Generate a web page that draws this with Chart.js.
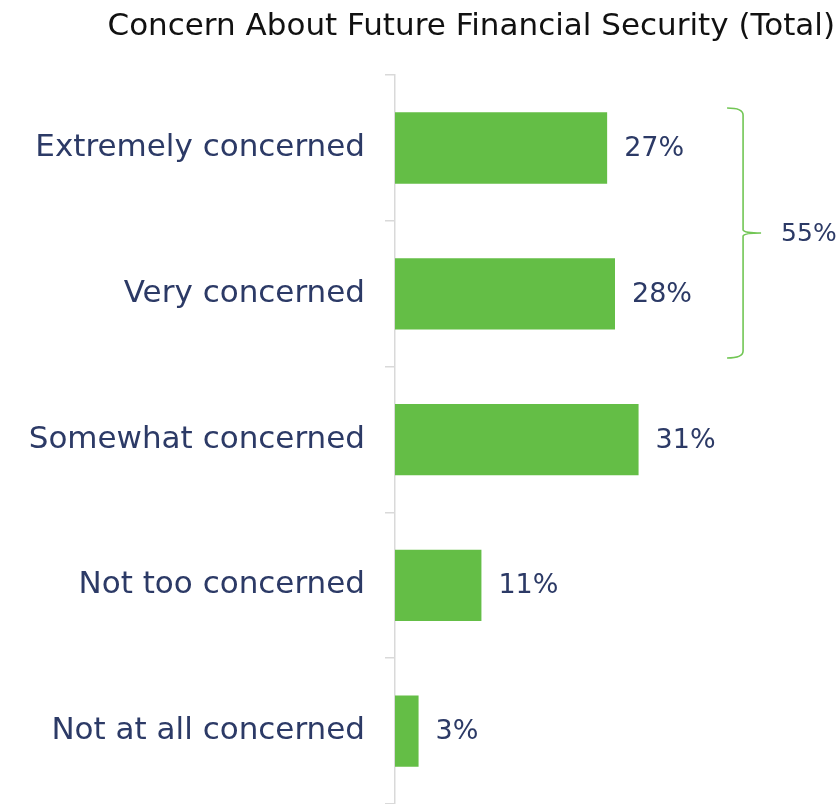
<!DOCTYPE html>
<html>
<head>
<meta charset="utf-8">
<script src="https://cdn.jsdelivr.net/npm/chart.js@4.4.1/dist/chart.umd.min.js"></script>
<style>
  html, body { margin: 0; padding: 0; background: #fff; }
  #wrap { width: 840px; height: 804px; }
</style>
</head>
<body>
<div id="wrap"><canvas id="chart" width="840" height="804"></canvas></div>
<script>
const categories = [
  'Extremely concerned',
  'Very concerned',
  'Somewhat concerned',
  'Not too concerned',
  'Not at all concerned',
];
const shares = [27, 28, 31, 11, 3];
// top two answers are bracketed together
const groupedRows = [0, 1];

const FONT = '"DejaVu Sans", "Noto Sans", sans-serif';
const NAVY = '#2c3a66';
const GREEN = '#64be46';
const BRACE_GREEN = '#72c655';
const AXIS_GREY = '#d9d9d9';

const valueLabels = {
  id: 'valueLabels',
  afterDatasetsDraw(chart) {
    const { ctx } = chart;
    const meta = chart.getDatasetMeta(0);
    ctx.save();
    ctx.font = `27px ${FONT}`;
    ctx.fillStyle = NAVY;
    ctx.textAlign = 'left';
    ctx.textBaseline = 'middle';
    meta.data.forEach((bar, i) => {
      ctx.fillText(`${shares[i]}%`, bar.x + 17, bar.y + 1);
    });
    ctx.restore();
  },
};

const groupBrace = {
  id: 'groupBrace',
  afterDraw(chart) {
    const { ctx, scales } = chart;
    const y = scales.y;
    const band = y.getPixelForValue(1) - y.getPixelForValue(0);
    const top = y.getPixelForValue(groupedRows[0]) - band * 0.275;
    const bottom = y.getPixelForValue(groupedRows[groupedRows.length - 1]) + band * 0.44;
    const mid = (top + bottom) / 2;
    const x = scales.x.getPixelForValue(44.3);
    const hook = 16;
    const tip = 18;
    const r = 7;

    ctx.save();
    ctx.strokeStyle = BRACE_GREEN;
    ctx.lineWidth = 1.6;
    ctx.beginPath();
    ctx.moveTo(x - hook, top);
    ctx.quadraticCurveTo(x, top, x, top + r);
    ctx.lineTo(x, mid - 3);
    ctx.quadraticCurveTo(x + 1, mid, x + tip, mid);
    ctx.quadraticCurveTo(x + 1, mid, x, mid + 3);
    ctx.lineTo(x, bottom - r);
    ctx.quadraticCurveTo(x, bottom, x - hook, bottom);
    ctx.stroke();

    const total = groupedRows.reduce((sum, i) => sum + shares[i], 0);
    ctx.font = `25px ${FONT}`;
    ctx.fillStyle = NAVY;
    ctx.textAlign = 'left';
    ctx.textBaseline = 'middle';
    ctx.fillText(`${total}%`, x + tip + 20, mid + 2);
    ctx.restore();
  },
};

new Chart(document.getElementById('chart'), {
  type: 'bar',
  data: {
    labels: categories,
    datasets: [{
      data: shares,
      backgroundColor: GREEN,
      borderWidth: 0,
      categoryPercentage: 1,
      barPercentage: 0.49,
    }],
  },
  options: {
    indexAxis: 'y',
    responsive: false,
    animation: false,
    layout: { padding: { left: 0, right: 5, top: 0, bottom: 0 } },
    scales: {
      x: {
        display: false,
        min: 0,
        max: 56,
      },
      y: {
        afterFit(scale) {
          scale.width = 395;
          // labels sit mid-band, so no extra room needed at the ends
          scale.paddingTop = 0;
          scale.paddingBottom = 0;
        },
        border: { display: true, color: AXIS_GREY, width: 1.5 },
        grid: {
          drawOnChartArea: false,
          drawTicks: true,
          tickLength: 10,
          color: AXIS_GREY,
          lineWidth: 1.5,
        },
        ticks: {
          padding: 20,
          color: NAVY,
          font: { family: FONT, size: 31 },
        },
      },
    },
    plugins: {
      legend: { display: false },
      tooltip: { enabled: false },
      title: {
        display: true,
        text: 'Concern About Future Financial Security (Total)',
        align: 'end',
        color: '#111',
        font: { family: FONT, size: 31, weight: 'normal' },
        padding: { top: 8, bottom: 30 },
      },
    },
  },
  plugins: [valueLabels, groupBrace],
});
</script>
</body>
</html>
